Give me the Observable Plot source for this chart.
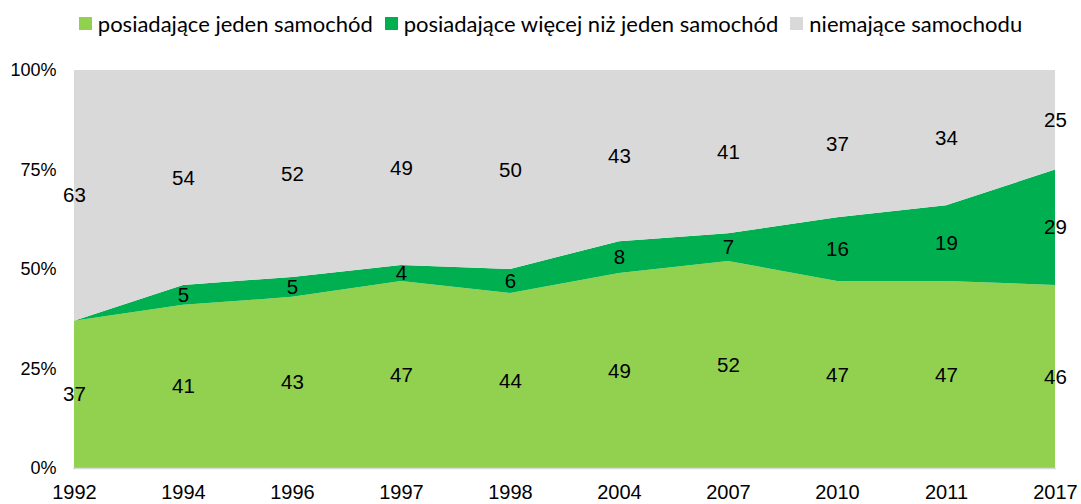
<!DOCTYPE html>
<html><head><meta charset="utf-8">
<script src="https://cdn.jsdelivr.net/npm/d3@7"></script>
<script src="https://cdn.jsdelivr.net/npm/@observablehq/plot@0.6"></script>
<style>
body{margin:0;background:#fff;font-family:"Liberation Sans",Arial,sans-serif;}
#legend{height:46px;display:flex;justify-content:center;align-items:center;font-family:Lato,"Open Sans",sans-serif;font-size:22px;color:#000;padding-left:20px;box-sizing:border-box;}
#legend .item{display:flex;align-items:center;margin:0 6px;}
#legend .sw{width:13px;height:13px;margin-right:6px;}
</style></head>
<body>
<div id="legend"></div>
<div id="chart"></div>
<script>
const years = ["1992","1994","1996","1997","1998","2004","2007","2010","2011","2017"];
const seriesNames = ["posiadające jeden samochód","posiadające więcej niż jeden samochód","niemające samochodu"];
const seriesColors = ["#92D050","#00B050","#D9D9D9"];
const oneCar  = [37,41,43,47,44,49,52,47,47,46];
const moreCar = [0,5,5,4,6,8,7,16,19,29];
const noCar   = [63,54,52,49,50,43,41,37,34,25];
const yTicks = [0,25,50,75,100];

const seriesValues = [oneCar, moreCar, noCar];
const data = [];
seriesNames.forEach((s,i)=>years.forEach((y,j)=>data.push({year:y, series:s, value:seriesValues[i][j]})));

const leg = document.getElementById("legend");
seriesNames.forEach((s,i)=>{
  const it = document.createElement("div"); it.className="item";
  const sw = document.createElement("span"); sw.className="sw"; sw.style.background=seriesColors[i];
  const t = document.createElement("span"); t.textContent=s;
  it.appendChild(sw); it.appendChild(t); leg.appendChild(it);
});

const chart = Plot.plot({
  width:1081, height:458,
  marginLeft:73, marginRight:25, marginTop:24, marginBottom:36,
  style:{fontFamily:'"Liberation Sans",Arial,sans-serif', fontSize:"18px", color:"#000", background:"#fff"},
  x:{type:"point", domain:years, padding:0, label:null},
  y:{domain:[0,100], ticks:yTicks, label:null, tickFormat:d=>d+"%"},
  color:{domain:seriesNames, range:seriesColors},
  marks:[
    Plot.areaY(data,{x:"year", y:"value", z:"series", fill:"series", order:seriesNames}),
    Plot.ruleY([0],{stroke:"#d9d9d9", strokeWidth:1.5}),
    Plot.text(data,Plot.stackY({x:"year", y:"value", z:"series", order:seriesNames, text:d=>d.value>0?String(d.value):"", fontSize:20.5, fill:"#000"})),
    Plot.axisX({tickSize:0, tickPadding:16, fontSize:20, label:null}),
    Plot.axisY({tickSize:0, tickPadding:17, fontSize:18, label:null, ticks:yTicks, tickFormat:d=>d+"%"})
  ]
});
document.getElementById("chart").appendChild(chart);
</script>
</body></html>
